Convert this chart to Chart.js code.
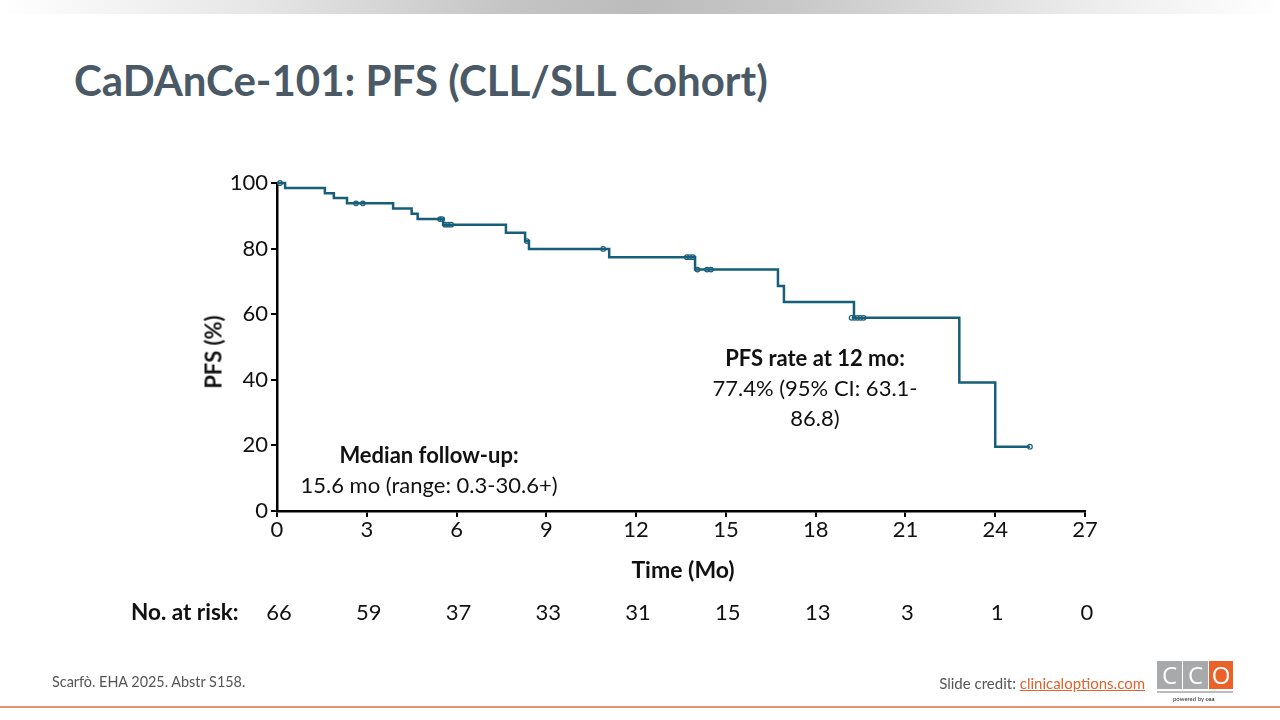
<!DOCTYPE html>
<html>
<head>
<meta charset="utf-8">
<script src="https://cdn.jsdelivr.net/npm/chart.js@4/dist/chart.umd.min.js"></script>
<style>
  html, body { margin: 0; padding: 0; width: 1280px; height: 720px; overflow: hidden; background: #fff; font-family: Lato, "Open Sans", sans-serif; }
  .abs { position: absolute; white-space: nowrap; }
  #topbar { position: absolute; left: 0; top: 0; width: 1280px; height: 14px;
    background: linear-gradient(to right, #ffffff 0%, #e6e6e6 20%, #c4c4c4 40%, #bcbcbd 50%, #c8c8c8 62%, #ececec 85%, #ffffff 100%); }
  #title { left: 74px; top: 55px; font-size: 42px; font-weight: bold; color: #4a5966; }
  #wrap { position: absolute; left: 0; top: 0; width: 1280px; height: 720px; }
  .ann { font-size: 22px; color: #111; text-align: center; line-height: 30px; }
  .risk { font-size: 22px; color: #111; transform: translateX(-50%); top: 598px; }
  #footer { left: 52px; top: 673px; font-size: 14.4px; color: #555; }
  #credit { right: 135px; top: 674px; font-size: 15px; color: #555; }
  #credit a { color: #e0622e; text-decoration: underline; }
  #bottomline { position: absolute; left: 0; top: 706px; width: 1280px; height: 2px; background: #e9926f; }
  .logo { position: absolute; top: 661px; height: 28px; color: #fff; font-size: 24px; text-align: center; line-height: 28px; font-family: "Open Sans", sans-serif; }
</style>
</head>
<body>
<div id="topbar"></div>
<div class="abs" id="title">CaDAnCe-101: PFS (CLL/SLL Cohort)</div>
<div id="wrap"><canvas id="c" width="1280" height="720"></canvas></div>

<div class="abs" style="left:213px; top:352px; transform: translate(-50%,-50%) rotate(-90deg); font-size:22px; font-weight:bold; color:#111;">PFS (%)</div>
<div class="abs" style="left:683px; top:555px; transform: translateX(-50%); font-size:23px; font-weight:bold; color:#111;">Time (Mo)</div>

<div class="abs ann" style="left:429px; top:440px; transform: translateX(-50%);"><b>Median follow-up:</b><br>15.6 mo (range: 0.3-30.6+)</div>
<div class="abs ann" style="left:815px; top:343px; transform: translateX(-50%);"><b>PFS rate at 12 mo:</b><br>77.4% (95% CI: 63.1-<br>86.8)</div>

<div class="abs" style="left:131px; top:598px; font-size:22.5px; font-weight:bold; color:#111;">No. at risk:</div>
<div id="riskrow"></div>

<div class="abs" id="footer">Scarfò. EHA 2025. Abstr S158.</div>
<div class="abs" id="credit">Slide credit: <a>clinicaloptions.com</a></div>
<div class="logo" style="left:1157px; width:25px; background:#a7a9ab;">C</div>
<div class="logo" style="left:1183px; width:25px; background:#a7a9ab;">C</div>
<div class="logo" style="left:1209px; width:24px; background:#e8622a;">O</div>
<div style="position:absolute; left:1157px; top:691px; width:76px; height:2px; background:#bbb;"></div>
<div class="abs" style="left:1173px; top:695px; font-size:6px; color:#333;">powered by <b>cea</b></div>
<div id="bottomline"></div>

<script>
// ---- Data ----
const kmTimes = [0, 0.27, 1.6, 1.9, 2.34, 3.88, 4.5, 4.7, 5.55, 7.65, 8.29, 8.42, 11.1, 13.97, 16.74, 16.94, 19.28, 22.8, 24.0, 25.16];
const kmPFS   = [100, 98.5, 96.9, 95.4, 93.8, 92.2, 90.6, 89.0, 87.3, 84.8, 82.3, 79.9, 77.4, 73.6, 68.6, 63.7, 58.9, 39.2, 19.6, 19.6];
const censorTimes = [0.1, 2.64, 2.87, 5.45, 5.52, 5.62, 5.72, 5.82, 8.35, 10.9, 13.7, 13.8, 13.9, 14.05, 14.37, 14.5, 19.2, 19.3, 19.4, 19.5, 19.6, 25.16];
const censorPFS   = [100, 93.8, 93.8, 89.0, 89.0, 87.3, 87.3, 87.3, 82.3, 79.9, 77.4, 77.4, 77.4, 73.6, 73.6, 73.6, 58.9, 58.9, 58.9, 58.9, 58.9, 19.6];
const xTicks = [0, 3, 6, 9, 12, 15, 18, 21, 24, 27];
const yTicks = [0, 20, 40, 60, 80, 100];
const atRisk = [66, 59, 37, 33, 31, 15, 13, 3, 1, 0];

const teal = '#175e78';
const CA = { left: 277, right: 1085, top: 183, bottom: 511 };
const Y_W = 60, X_H = 40;

const chart = new Chart(document.getElementById('c'), {
  type: 'line',
  data: {
    datasets: [
      {
        label: 'PFS',
        data: kmTimes.map((t, i) => ({ x: t, y: kmPFS[i] })),
        stepped: 'before',
        borderColor: teal,
        borderWidth: 2.5,
        pointRadius: 0,
        fill: false,
        clip: false
      },
      {
        label: 'Censored',
        type: 'scatter',
        data: censorTimes.map((t, i) => ({ x: t, y: censorPFS[i] })),
        pointStyle: 'circle',
        pointRadius: 2.3,
        pointBorderWidth: 1.2,
        pointBackgroundColor: '#ffffff',
        pointBorderColor: teal,
        showLine: false,
        clip: false
      }
    ]
  },
  options: {
    responsive: false,
    animation: false,
    layout: { padding: { left: CA.left - Y_W, right: 1280 - CA.right, top: CA.top, bottom: 720 - CA.bottom - X_H } },
    plugins: { legend: { display: false }, tooltip: { enabled: false } },
    scales: {
      x: {
        type: 'linear', min: 0, max: 27,
        afterFit: s => { s.height = X_H; },
        afterBuildTicks: s => { s.ticks = xTicks.map(v => ({ value: v })); },
        grid: { drawOnChartArea: false, drawTicks: true, tickLength: 6, color: '#000', lineWidth: 2 },
        border: { display: true, color: '#000', width: 2.5 },
        ticks: { color: '#111', font: { family: 'Lato', size: 22 }, padding: 0, maxRotation: 0 }
      },
      y: {
        min: 0, max: 100,
        afterFit: s => { s.width = Y_W; },
        afterBuildTicks: s => { s.ticks = yTicks.map(v => ({ value: v })); },
        grid: { drawOnChartArea: false, drawTicks: true, tickLength: 6, color: '#000', lineWidth: 2 },
        border: { display: true, color: '#000', width: 2.5 },
        ticks: { color: '#111', font: { family: 'Lato', size: 22 }, padding: 3 }
      }
    }
  }
});

// No. at risk row, positioned through the chart's x scale
const row = document.getElementById('riskrow');
const xs = chart.scales.x;
xTicks.forEach((t, i) => {
  const d = document.createElement('div');
  d.className = 'abs risk';
  d.style.left = (xs.getPixelForValue(t) + 2) + 'px';
  d.textContent = atRisk[i];
  row.appendChild(d);
});
</script>
</body>
</html>
